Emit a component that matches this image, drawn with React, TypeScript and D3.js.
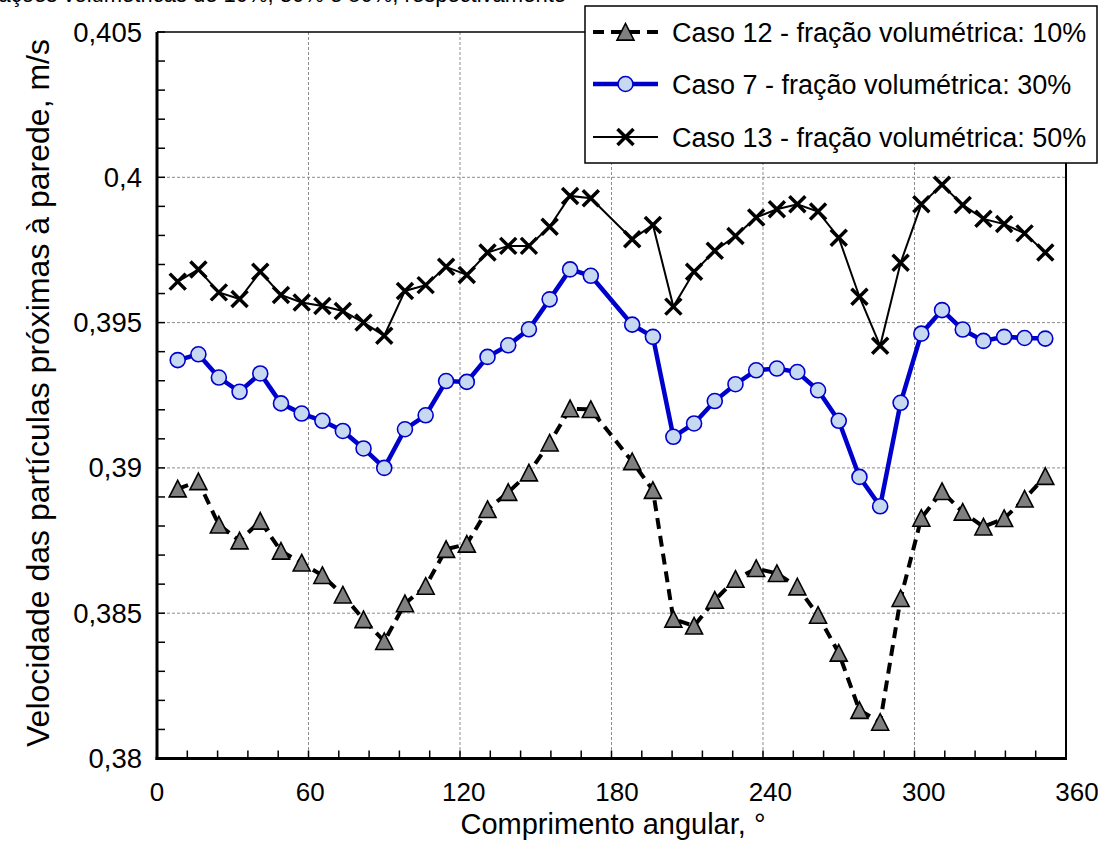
import React from 'react';
import * as d3 from 'd3';

// angular positions (deg) – no sample at 180
const ANGLES = [
  8.2, 16.4, 24.5, 32.7, 40.9, 49.1, 57.3, 65.5, 73.6, 81.8, 90,
  98.2, 106.4, 114.5, 122.7, 130.9, 139.1, 147.3, 155.5, 163.6, 171.8,
  188.2, 196.4, 204.5, 212.7, 220.9, 229.1, 237.3, 245.5, 253.6, 261.8, 270,
  278.2, 286.4, 294.5, 302.7, 310.9, 319.1, 327.3, 335.5, 343.6, 351.8,
];

const CASO12 = [
  0.38928, 0.38953, 0.38804, 0.38749, 0.38817, 0.38714, 0.38673, 0.3863, 0.38563, 0.38478, 0.38403,
  0.38533, 0.38593, 0.3872, 0.38738, 0.38857, 0.38916, 0.38983, 0.39086, 0.39204, 0.39201,
  0.39022, 0.38923, 0.3848, 0.38456, 0.38545, 0.38617, 0.38654, 0.38637, 0.38591, 0.38493,
  0.38363, 0.38166, 0.38125, 0.38551, 0.38827, 0.38919, 0.38848, 0.38797, 0.38826, 0.38893, 0.38971,
];

const CASO7 = [
  0.39371, 0.39391, 0.39311, 0.39262, 0.39325, 0.39222, 0.39187, 0.39162, 0.39127, 0.39067, 0.39,
  0.39133, 0.39181, 0.39299, 0.39296, 0.39382, 0.39422, 0.39477, 0.3958, 0.39683, 0.39661,
  0.39493, 0.39451, 0.39107, 0.39153, 0.3923, 0.39288, 0.39336, 0.39342, 0.3933, 0.39267,
  0.39162, 0.38969, 0.38868, 0.39224, 0.39462, 0.39543, 0.39476, 0.39437, 0.39451, 0.39447, 0.39445,
];

const CASO13 = [
  0.39641, 0.39683, 0.39604, 0.39581, 0.39675, 0.39595, 0.39569, 0.39557, 0.3954, 0.395, 0.39455,
  0.39609, 0.39629, 0.39692, 0.39664, 0.39741, 0.39764, 0.39764, 0.3983, 0.39936, 0.39928,
  0.39787, 0.39836, 0.39555, 0.39675, 0.39747, 0.39798, 0.39862, 0.3989, 0.39907, 0.39882,
  0.39792, 0.39589, 0.3942, 0.39706, 0.39907, 0.39974, 0.39905, 0.39857, 0.39839, 0.39807, 0.39741,
];

const X_TICKS = [0, 60, 120, 180, 240, 300, 360];
const Y_TICKS = [0.38, 0.385, 0.39, 0.395, 0.4, 0.405];
const LEGEND = [
  'Caso 12 - fração volumétrica: 10%',
  'Caso 7 - fração volumétrica: 30%',
  'Caso 13 - fração volumétrica: 50%',
];

const W = 1098;
const H = 848;
const FONT = 'Liberation Sans, Arial, sans-serif';

const x = d3.scaleLinear().domain([0, 360]).range([157, 1066]);
const y = d3.scaleLinear().domain([0.38, 0.405]).range([758.5, 32]);
// tick labels in the original drift slightly right of the gridlines
const xLab = d3.scaleLinear().domain([0, 360]).range([157, 1077]);

const fmt = (v: number) => String(+v.toFixed(3)).replace('.', ',');

const tri = (cx: number, cy: number, s = 8.5) =>
  `M${cx},${cy - s}L${cx + s},${cy + s * 0.95}L${cx - s},${cy + s * 0.95}Z`;
const cross = (cx: number, cy: number, s = 8) =>
  `M${cx - s},${cy - s}L${cx + s},${cy + s}M${cx - s},${cy + s}L${cx + s},${cy - s}`;

export default function App() {
  const mk = (vals: number[]) => ANGLES.map((a, i) => [a, vals[i]] as [number, number]);
  const line = d3
    .line<[number, number]>()
    .x((d) => x(d[0]))
    .y((d) => y(d[1]));

  const s12 = mk(CASO12);
  const s7 = mk(CASO7);
  const s13 = mk(CASO13);

  const minorX = d3.range(0, 361, 12);
  const minorY = d3.range(0, 26).map((i) => 0.38 + i * 0.001);

  const legY = [32, 84, 137];

  return (
    <svg
      width={W}
      height={H}
      style={{ position: 'absolute', left: 0, top: 0, background: '#fff' }}
      fontFamily={FONT}
    >
      <rect width={W} height={H} fill="#fff" />
      {/* caption of the page above, mostly cut off */}
      <text x={566} y={2} fontSize={22} textAnchor="end" fill="#000">
        Figura – Velocidade das partículas segundo o escoamento para frações volumétricas de 10%, 30% e 50%, respectivamente
      </text>

      {/* grid */}
      {X_TICKS.slice(1, -1).map((t) => (
        <line key={'gx' + t} x1={x(t)} x2={x(t)} y1={y(0.405)} y2={y(0.38)}
          stroke="#8c8c8c" strokeWidth={1} strokeDasharray="3,2" />
      ))}
      {Y_TICKS.slice(1, -1).map((t) => (
        <line key={'gy' + t} x1={x(0)} x2={x(360)} y1={y(t)} y2={y(t)}
          stroke="#8c8c8c" strokeWidth={1} strokeDasharray="3,2" />
      ))}

      {/* frame */}
      <line x1={x(0)} x2={x(360)} y1={y(0.405)} y2={y(0.405)} stroke="#000" strokeWidth={1.5} />
      <line x1={x(360)} x2={x(360)} y1={y(0.405)} y2={y(0.38)} stroke="#000" strokeWidth={2} />

      {/* minor ticks */}
      {minorX.map((t) => (
        <line key={'mx' + t} x1={x(t)} x2={x(t)} y1={y(0.38)} y2={y(0.38) - 8} stroke="#000" strokeWidth={1.5} />
      ))}
      {minorY.map((t, i) => (
        <line key={'my' + i} x1={x(0)} x2={x(0) + 8} y1={y(t)} y2={y(t)} stroke="#000" strokeWidth={1.5} />
      ))}

      {/* axes */}
      <line x1={x(0)} x2={x(0)} y1={y(0.405)} y2={y(0.38) + 1.5} stroke="#000" strokeWidth={3} />
      <line x1={x(0) - 1.5} x2={x(360) + 1} y1={y(0.38)} y2={y(0.38)} stroke="#000" strokeWidth={3} />

      {X_TICKS.map((t) => (
        <text key={'tx' + t} x={xLab(t)} y={801} fontSize={26} textAnchor="middle" fill="#000">
          {t}
        </text>
      ))}
      {Y_TICKS.map((t) => (
        <text key={'ty' + t} x={142} y={y(t) + 9.5} fontSize={27.5} textAnchor="end" fill="#000">
          {fmt(t)}
        </text>
      ))}

      <text x={613} y={834} fontSize={29} textAnchor="middle" fill="#000">
        Comprimento angular, °
      </text>
      <text transform={`translate(49,${393}) rotate(-90)`} fontSize={32} textAnchor="middle" fill="#000">
        Velocidade das partículas próximas à parede, m/s
      </text>

      {/* series */}
      <path d={line(s13) || ''} fill="none" stroke="#000" strokeWidth={2} />
      <path d={line(s7) || ''} fill="none" stroke="#0000cc" strokeWidth={4.5} />
      <path d={line(s12) || ''} fill="none" stroke="#000" strokeWidth={4} strokeDasharray="11,7" />

      {s13.map((d, i) => (
        <path key={'c' + i} d={cross(x(d[0]), y(d[1]))} stroke="#000" strokeWidth={3.5} fill="none" />
      ))}
      {s7.map((d, i) => (
        <circle key={'o' + i} cx={x(d[0])} cy={y(d[1])} r={7.5} fill="#c6d9f1" stroke="#0000cc" strokeWidth={1.6} />
      ))}
      {s12.map((d, i) => (
        <path key={'t' + i} d={tri(x(d[0]), y(d[1]))} fill="#7f7f7f" stroke="#000" strokeWidth={1.6} />
      ))}

      {/* legend */}
      <rect x={585} y={6} width={512} height={157} fill="#fff" stroke="#000" strokeWidth={1.5} />
      {LEGEND.map((label, i) => {
        const ly = legY[i];
        return (
          <g key={label}>
            {i === 0 && (
              <>
                <line x1={593} x2={658} y1={ly} y2={ly} stroke="#000" strokeWidth={4} strokeDasharray="11,7" />
                <path d={tri(625.5, ly)} fill="#7f7f7f" stroke="#000" strokeWidth={1.6} />
              </>
            )}
            {i === 1 && (
              <>
                <line x1={593} x2={658} y1={ly} y2={ly} stroke="#0000cc" strokeWidth={4.5} />
                <circle cx={625.5} cy={ly} r={7.5} fill="#c6d9f1" stroke="#0000cc" strokeWidth={1.6} />
              </>
            )}
            {i === 2 && (
              <>
                <line x1={593} x2={658} y1={ly} y2={ly} stroke="#000" strokeWidth={2} />
                <path d={cross(625.5, ly)} stroke="#000" strokeWidth={3.5} fill="none" />
              </>
            )}
            <text x={672} y={ly + 9.5} fontSize={27} fill="#000">
              {label}
            </text>
          </g>
        );
      })}
    </svg>
  );
}
